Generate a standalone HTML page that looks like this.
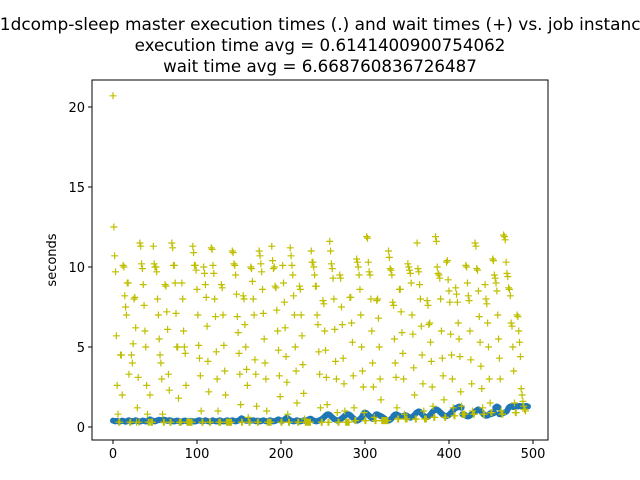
<!DOCTYPE html>
<html><head><meta charset="utf-8"><style>
body{margin:0;background:#fff;}
svg{display:block;font-family:"DejaVu Sans","Liberation Sans",sans-serif;}
</style></head><body>
<svg id="chart" width="640" height="480">
<rect width="640" height="480" fill="#fff"/>
<g id="titles" font-size="16.7" text-anchor="middle" fill="#000">
<text x="320" y="30" textLength="662" lengthAdjust="spacingAndGlyphs">11dcomp-sleep master execution times (.) and wait times (+) vs. job instance</text>
<text x="320" y="51">execution time avg = 0.6141400900754062</text>
<text x="320" y="72">wait time avg = 6.668760836726487</text>
</g>
<text x="56" y="260" font-size="13" text-anchor="middle" transform="rotate(-90 56 260)">seconds</text>
<g id="marks"></g>
<rect x="92" y="80" width="456" height="360" fill="none" stroke="#000" stroke-width="1"/>
<g id="axes" font-size="13"></g>
</svg>
<script>
const xTicks=[0,100,200,300,400,500];
const yTicks=[0,5,10,15,20];
const waitTimes=[20.7,12.5,10.7,9.7,5.7,2.6,0.8,0.3,0.3,4.5,4.5,2.0,10.1,10.0,8.2,7.5,7.0,9.0,9.0,3.3,0.3,0.3,4.5,4.0,5.2,8.0,8.1,6.2,0.3,1.2,3.1,0.3,11.5,11.3,10.2,9.9,8.9,7.6,6.0,5.0,2.6,0.8,0.3,0.3,2.0,0.3,0.3,0.3,
11.3,10.2,10.0,10.0,9.7,8.0,7.0,5.5,4.5,4.0,3.0,0.8,0.3,0.3,8.9,8.8,7.2,6.1,3.3,2.3,0.3,0.3,11.5,11.2,10.1,10.1,9.0,7.1,5.0,5.0,1.8,0.3,0.3,0.3,9.0,8.0,6.0,5.0,4.6,2.6,0.3,0.3,0.3,0.3,0.3,0.3,0.3,
11.3,10.9,10.1,10.1,9.8,8.6,7.0,5.1,4.3,3.2,1.0,0.3,0.3,10.0,9.6,8.9,8.1,6.3,4.1,2.2,0.3,0.3,11.2,11.1,10.1,9.6,8.0,6.9,4.7,3.0,1.0,0.3,0.3,0.3,8.9,8.7,7.0,5.1,3.5,2.0,0.3,0.3,0.3,0.3,0.3,0.3,0.3,
11.0,10.9,10.2,10.1,9.5,8.3,6.9,5.9,4.6,3.3,1.4,0.3,0.3,8.2,8.0,6.4,5.0,3.6,2.6,0.6,0.3,0.3,10.0,9.9,9.1,8.0,7.0,4.2,3.3,1.3,0.3,0.3,11.0,10.7,10.2,9.7,8.6,7.1,5.5,4.0,3.0,1.0,0.3,0.3,0.3,0.3,0.3,
11.3,10.4,9.9,10.0,8.8,8.7,7.3,6.0,4.8,3.2,1.9,0.3,0.3,10.1,9.0,7.8,6.2,4.4,2.8,0.8,0.3,0.3,11.2,10.7,10.1,9.5,8.2,7.0,5.0,3.5,1.5,0.3,0.3,8.8,8.6,7.0,5.7,3.9,2.1,0.5,0.3,0.3,0.3,0.3,0.3,0.3,0.3,
11.0,10.3,10.3,10.0,9.5,8.8,8.8,7.0,6.4,4.7,3.3,1.2,0.3,0.3,7.9,7.7,6.0,4.8,3.1,1.4,0.3,0.3,11.6,11.0,10.2,9.9,9.3,8.0,6.1,4.1,3.0,0.9,0.3,0.3,9.5,9.3,7.5,6.4,4.3,2.7,1.0,0.3,0.3,0.3,0.3,0.3,
8.1,8.1,6.5,5.3,3.2,1.2,0.4,0.4,10.5,10.3,10.0,9.5,8.6,7.0,5.0,3.5,2.5,0.9,0.4,0.4,11.9,11.8,10.3,9.7,9.5,8.0,6.0,4.0,2.5,0.6,0.4,0.4,7.9,8.0,6.8,5.0,3.0,1.7,0.4,0.4,0.4,0.4,0.4,0.4,0.4,0.4,
11.0,10.6,9.9,9.8,9.5,7.8,7.6,5.5,4.0,3.1,1.2,0.5,0.5,8.6,8.6,7.2,5.9,4.6,3.0,0.8,0.5,0.5,0.5,10.2,10.0,9.8,9.6,9.0,7.0,5.8,3.7,2.0,0.5,0.5,11.5,9.9,9.7,8.9,8.0,6.3,4.5,2.7,1.0,0.5,0.5,0.5,
7.9,7.6,6.4,6.5,5.3,4.1,2.5,1.3,0.6,0.6,11.9,11.6,10.0,9.6,9.5,9.3,8.0,6.0,4.3,3.2,1.7,0.6,0.6,10.3,10.4,9.2,8.5,7.8,5.8,4.5,3.0,1.2,0.7,0.7,8.7,8.3,7.8,6.5,5.5,4.4,2.2,1.3,0.8,0.8,0.8,0.8,
10.1,10.0,9.0,8.2,7.9,6.0,4.2,2.7,1.0,0.8,0.8,11.5,11.3,9.9,9.8,8.5,6.9,5.3,3.8,2.4,1.2,0.8,0.8,8.9,8.0,7.7,6.5,5.0,3.0,1.5,0.9,0.9,
10.5,10.4,9.5,9.3,9.0,8.5,7.0,5.5,4.3,3.0,1.0,0.8,0.8,12.0,11.9,11.7,10.3,9.6,9.4,8.7,8.6,8.2,6.5,6.3,5.0,3.5,1.5,0.9,0.9,
7.0,6.9,6.0,5.3,4.4,2.4,2.0,1.6,1.3,1.1,1.0];
const execTimes=[0.40,0.38,0.36,0.35,0.38,0.37,0.36,0.35,0.34,0.36,0.38,0.40,0.38,0.36,0.35,0.33,0.35,0.38,0.40,0.42,0.40,0.38,0.36,0.35,0.36,0.38,0.40,0.42,0.40,0.38,
0.36,0.35,0.34,0.35,0.37,0.40,0.40,0.38,0.36,0.35,0.35,0.37,0.40,0.45,0.48,0.45,0.42,0.40,0.38,0.36,0.35,0.37,0.40,0.42,0.44,0.45,0.44,0.43,0.42,0.44,
0.46,0.45,0.44,0.42,0.40,0.38,0.40,0.42,0.42,0.40,0.38,0.36,0.35,0.35,0.36,0.38,0.40,0.40,0.38,0.36,0.35,0.34,0.35,0.36,0.38,0.40,0.40,0.38,0.36,0.35,
0.35,0.36,0.37,0.38,0.37,0.36,0.35,0.34,0.35,0.36,0.38,0.40,0.42,0.42,0.40,0.38,0.37,0.36,0.38,0.40,0.42,0.40,0.38,0.36,0.35,0.34,0.35,0.37,0.40,0.42,
0.38,0.37,0.36,0.35,0.35,0.38,0.40,0.42,0.40,0.38,0.36,0.35,0.35,0.36,0.38,0.40,0.42,0.40,0.38,0.36,0.38,0.40,0.42,0.40,0.38,0.36,0.35,0.36,0.38,0.40,
0.42,0.45,0.50,0.55,0.52,0.48,0.45,0.42,0.40,0.38,0.40,0.42,0.45,0.42,0.40,0.40,0.40,0.42,0.40,0.38,0.36,0.38,0.40,0.38,0.36,0.35,0.36,0.38,0.40,0.42,
0.40,0.38,0.36,0.35,0.36,0.38,0.40,0.42,0.40,0.38,0.36,0.35,0.36,0.38,0.40,0.42,0.45,0.48,0.45,0.42,0.40,0.38,0.40,0.42,0.45,0.50,0.55,0.58,0.55,0.50,
0.45,0.42,0.40,0.38,0.36,0.35,0.36,0.38,0.40,0.42,0.40,0.38,0.36,0.35,0.36,0.38,0.40,0.42,0.40,0.38,0.40,0.42,0.45,0.48,0.50,0.52,0.50,0.45,0.42,0.40,
0.38,0.36,0.35,0.36,0.38,0.40,0.42,0.45,0.48,0.50,0.55,0.60,0.65,0.70,0.75,0.78,0.80,0.78,0.75,0.70,0.65,0.60,0.55,0.50,0.48,0.45,0.42,0.40,0.40,0.42,
0.45,0.48,0.52,0.56,0.60,0.65,0.70,0.75,0.78,0.80,0.80,0.78,0.75,0.70,0.65,0.60,0.55,0.50,0.45,0.42,0.40,0.40,0.42,0.45,0.50,0.55,0.60,0.70,0.80,0.88,
0.90,0.88,0.85,0.80,0.75,0.70,0.65,0.60,0.55,0.50,0.55,0.65,0.72,0.78,0.80,0.78,0.75,0.72,0.70,0.68,0.65,0.62,0.58,0.55,0.50,0.45,0.42,0.40,0.40,0.42,
0.45,0.50,0.55,0.62,0.70,0.75,0.78,0.80,0.78,0.75,0.72,0.70,0.68,0.66,0.66,0.68,0.70,0.72,0.74,0.72,0.70,0.66,0.62,0.60,0.58,0.60,0.62,0.66,0.70,0.76,
0.82,0.88,0.92,0.95,0.98,0.96,0.92,0.86,0.80,0.74,0.70,0.66,0.64,0.62,0.62,0.64,0.68,0.72,0.78,0.85,0.92,0.98,1.02,1.05,1.08,1.10,1.08,1.04,1.00,0.95,
0.90,0.85,0.80,0.75,0.72,0.70,0.68,0.68,0.70,0.72,0.76,0.80,0.86,0.92,0.98,1.04,1.10,1.15,1.18,1.20,1.22,1.25,1.28,1.25,1.22,1.20,0.80,0.76,0.74,0.76,
0.70,0.68,0.66,0.66,0.68,0.72,0.76,0.80,0.84,0.88,0.92,0.96,1.00,1.04,1.08,1.10,1.08,1.04,0.98,0.92,0.86,0.80,0.76,0.72,0.70,0.70,0.72,0.76,0.80,0.86,
0.80,0.82,0.84,0.86,0.88,1.20,1.25,1.28,1.26,1.22,0.80,0.80,0.82,0.84,0.86,0.88,0.90,0.92,0.95,1.00,1.10,1.20,1.25,1.28,1.30,1.28,1.26,1.25,1.28,1.30,
1.32,1.30,1.28,1.30,1.32,1.30,1.28,1.30,1.32,1.30,1.28,1.30,1.32,1.30,1.28];
const NS='http://www.w3.org/2000/svg';
const X0=92,X1=548,Y0=80,Y1=440;
function sx(v){return 113+v*(533-113)/500;}
function sy(v){return 427-v*(427-107)/20;}
const axes=document.getElementById('axes');
const marks=document.getElementById('marks');
function mk(tag,attrs,parent){const e=document.createElementNS(NS,tag);for(const k in attrs)e.setAttribute(k,attrs[k]);parent.appendChild(e);return e;}
xTicks.forEach(t=>{
  const x=sx(t);
  const l=mk('line',{x1:x,x2:x,y1:Y1,y2:Y1+4,stroke:'#000'},axes);
  
  
  const tx=mk('text',{x:x,y:Y1+18,'text-anchor':'middle'},axes);
  tx.textContent=t;
  
  
});
yTicks.forEach(t=>{
  const y=sy(t);
  const l=mk('line',{x1:X0-4,x2:X0,y1:y,y2:y,stroke:'#000'},axes);
  
  
  const tx=mk('text',{x:X0-7,y:y+5,'text-anchor':'end'},axes);
  tx.textContent=t;
  
  
});
execTimes.forEach((v,i)=>{
  const c=mk('circle',{cx:sx(i),cy:sy(v),r:3,fill:'#1f77b4'},marks);
  
  
});
waitTimes.forEach((v,i)=>{
  const x=sx(i),y=sy(v);
  const p=mk('path',{d:`M${x-3.5},${y}H${x+3.5}M${x},${y-3.5}V${y+3.5}`,stroke:'#bfbf00','stroke-width':1.2,fill:'none'},marks);
  
  
});
</script>
</body></html>
